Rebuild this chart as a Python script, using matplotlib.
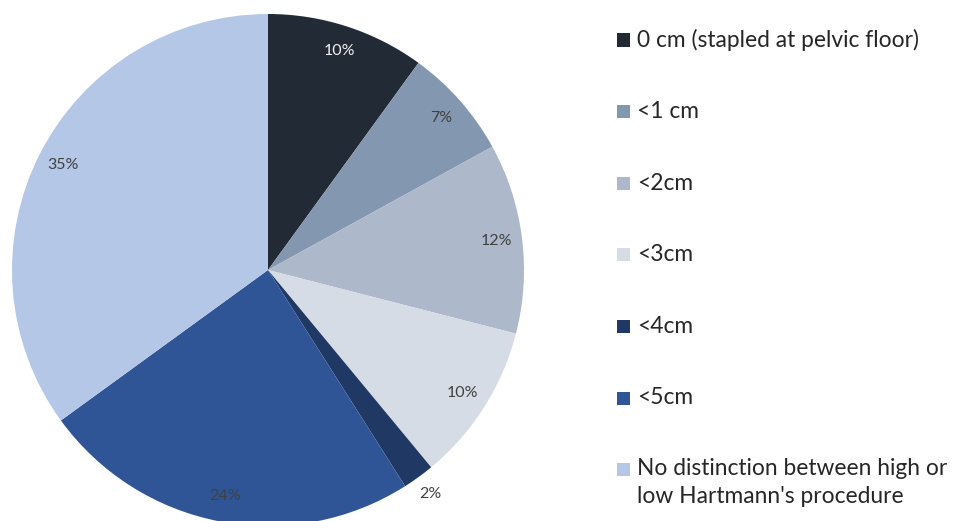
import matplotlib
matplotlib.use("Agg")
import matplotlib.pyplot as plt
from matplotlib.patches import Rectangle
import numpy as np

categories = ["0 cm (stapled at pelvic floor)", "<1 cm", "<2cm", "<3cm", "<4cm", "<5cm",
              "No distinction between high or\nlow Hartmann's procedure"]
shares = [10, 7, 12, 10, 2, 24, 35]
colors = ["#222a35", "#8497b0", "#adb9ca", "#d6dce5", "#203864", "#2f5597", "#b4c7e7"]
label_colors = ["#f2f2f2", "#404040", "#404040", "#404040", "#404040", "#404040", "#404040"]
label_dist = [0.9, 0.9, 0.9, 0.9, 1.08, 0.9, 0.9]

plt.rcParams['font.family'] = ['Lato', 'DejaVu Sans']

W, H = 954, 521
fig = plt.figure(figsize=(W / 100, H / 100), dpi=100)

R = 256
cx, cy = 268, 270
ax = fig.add_axes([(cx - R) / W, (H - cy - R) / H, 2 * R / W, 2 * R / H])
ax.pie(shares, colors=colors, startangle=90, counterclock=False,
       radius=1, wedgeprops=dict(linewidth=0))
ax.set_xlim(-1, 1)
ax.set_ylim(-1, 1)
ax.set_aspect('equal')
ax.axis('off')

# percentage labels at the middle angle of each wedge
total = sum(shares)
start = 90.0
for v, d, c in zip(shares, label_dist, label_colors):
    ang = np.deg2rad(start - 360 * v / total / 2)
    start -= 360 * v / total
    ax.text(d * np.cos(ang), d * np.sin(ang), f"{v}%", ha='center', va='center',
            fontsize=11.5, color=c)

# legend: colour square followed by its category text
y0, step = 40, 71.6
for i, (lab, col) in enumerate(zip(categories, colors)):
    y = y0 + i * step
    fig.add_artist(Rectangle((617 / W, (H - y - 6.5) / H), 13 / W, 13 / H,
                             transform=fig.transFigure, color=col, linewidth=0))
    if '\n' in lab:
        fig.text(637 / W, (H - y + 12) / H, lab, ha='left', va='top', fontsize=16.4,
                 color='#262626', linespacing=1.45)
    else:
        fig.text(637 / W, (H - y) / H, lab, ha='left', va='center', fontsize=16.4,
                 color='#262626')

fig.savefig("out.png", dpi=100)
